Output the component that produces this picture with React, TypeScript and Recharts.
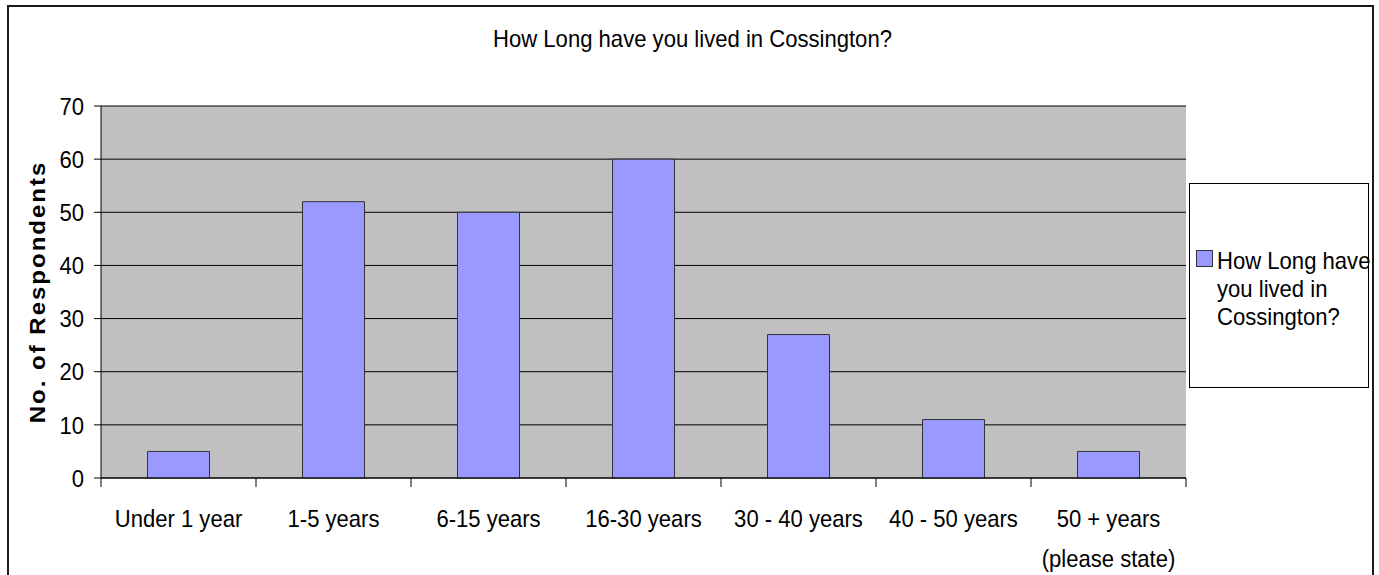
import React from 'react';
import { BarChart, Bar, XAxis, YAxis, CartesianGrid, Legend } from 'recharts';

// ---- data ----
const categories = [
  'Under 1 year',
  '1-5 years',
  '6-15 years',
  '16-30 years',
  '30 - 40 years',
  '40 - 50 years',
  '50 + years\n(please state)',
];
const respondents = [5, 52, 50, 60, 27, 11, 5];
const yTicks = [0, 10, 20, 30, 40, 50, 60, 70];
const seriesName = 'How Long have you lived in Cossington?';
const chartTitle = 'How Long have you lived in Cossington?';
const yAxisTitle = 'No. of Respondents';

const data = categories.map((c, i) => ({ category: c, value: respondents[i] }));

// ---- layout ----
const W = 1379;
const H = 575;
const PLOT_L = 101;
const PLOT_R = 1186;
const PLOT_T = 106;
const PLOT_B = 478;
const X_AXIS_H = 60;
const BAND = (PLOT_R - PLOT_L) / categories.length;
const FONT = '"Liberation Sans", Arial, Helvetica, sans-serif';
const SX = 0.92;

const XTick = (props: any) => {
  const { x, payload, index } = props;
  const lines = String(payload.value).split('\n');
  const last = index === categories.length - 1 || payload.value === categories[categories.length - 1];
  return (
    <g>
      <line x1={x - BAND / 2} x2={x - BAND / 2} y1={PLOT_B} y2={PLOT_B + 9} stroke="#000" strokeWidth={1} />
      {last && <line x1={x + BAND / 2} x2={x + BAND / 2} y1={PLOT_B} y2={PLOT_B + 9} stroke="#000" strokeWidth={1} />}
      <g transform={`translate(${x},${PLOT_B + 49}) scale(${SX},1)`}>
        <text textAnchor="middle" fontFamily={FONT} fontSize={24} fill="#000">
          {lines.map((l, i) => (
            <tspan key={i} x={0} y={i * 40}>
              {l}
            </tspan>
          ))}
        </text>
      </g>
    </g>
  );
};

const YTick = (props: any) => {
  const { x, y, payload } = props;
  return (
    <g transform={`translate(${x},${y}) scale(${SX},1)`}>
      <text textAnchor="end" dy="0.36em" fontFamily={FONT} fontSize={24} fill="#000">
        {payload.value}
      </text>
    </g>
  );
};

const YLabel = (props: any) => {
  const vb = props.viewBox || {};
  const cy = vb.height ? vb.y + vb.height / 2 : (PLOT_T + PLOT_B) / 2;
  return (
    <g transform={`translate(45,${cy}) rotate(-90) scale(1,${SX})`}>
      <text textAnchor="middle" fontFamily={FONT} fontSize={24} fontWeight="bold" letterSpacing={2} fill="#000">
        {yAxisTitle}
      </text>
    </g>
  );
};

const renderLegend = (props: any) => {
  const item = (props.payload && props.payload[0]) || { color: '#9999FF', value: seriesName };
  return (
    <div
      style={{
        position: 'relative',
        width: 180,
        height: 205,
        boxSizing: 'border-box',
        border: '1px solid #000',
        background: '#fff',
      }}
    >
      <div
        style={{
          position: 'absolute',
          left: 6,
          top: 66,
          width: 17,
          height: 17,
          boxSizing: 'border-box',
          background: item.color,
          border: '1px solid #333',
        }}
      />
      <div
        style={{
          position: 'absolute',
          left: 27,
          top: 63,
          width: 175,
          fontFamily: FONT,
          fontSize: 24,
          lineHeight: '28px',
          color: '#000',
          textAlign: 'left',
          transform: `scaleX(${SX})`,
          transformOrigin: 'left top',
        }}
      >
        {item.value}
      </div>
    </div>
  );
};

export default function App() {
  return (
    <div style={{ position: 'absolute', left: 0, top: 0, width: W, height: H, background: '#fff', overflow: 'hidden' }}>
      <BarChart
        width={W}
        height={H}
        data={data}
        margin={{ top: PLOT_T, right: W - PLOT_R, left: 0, bottom: H - PLOT_B - X_AXIS_H }}
        barCategoryGap="30%"
      >
        <CartesianGrid vertical={false} stroke="#000" fill="#C0C0C0" fillOpacity={1} />
        <XAxis
          dataKey="category"
          height={X_AXIS_H}
          interval={0}
          tickLine={false}
          axisLine={{ stroke: '#000' }}
          tick={(p: any) => <XTick {...p} />}
        />
        <XAxis
          xAxisId="top"
          orientation="top"
          dataKey="category"
          height={0}
          tick={false}
          tickLine={false}
          axisLine={{ stroke: '#808080' }}
        />
        <YAxis
          width={PLOT_L}
          domain={[0, 70]}
          ticks={yTicks}
          interval={0}
          tickSize={7}
          tickMargin={10}
          tickLine={{ stroke: '#000' }}
          axisLine={{ stroke: '#000' }}
          tick={(p: any) => <YTick {...p} />}
          label={<YLabel />}
        />
        <YAxis
          yAxisId="right"
          orientation="right"
          width={0}
          domain={[0, 70]}
          tick={false}
          tickLine={false}
          axisLine={{ stroke: '#808080' }}
        />
        <Legend
          layout="horizontal"
          align="center"
          verticalAlign="middle"
          content={renderLegend}
          wrapperStyle={{ position: 'absolute', left: 1189, top: 183, width: 180, height: 205, margin: 0 }}
        />
        <Bar dataKey="value" name={seriesName} fill="#9999FF" stroke="#333" strokeWidth={1} isAnimationActive={false} />
      </BarChart>
      <div
        style={{
          position: 'absolute',
          left: 3,
          top: 25,
          width: W,
          textAlign: 'center',
          fontFamily: FONT,
          fontSize: 24,
          lineHeight: '28px',
          color: '#000',
          transform: `scaleX(${SX})`,
          transformOrigin: 'center top',
        }}
      >
        {chartTitle}
      </div>
      <div
        style={{
          position: 'absolute',
          left: 7,
          top: 5,
          width: 1367,
          height: 620,
          boxSizing: 'border-box',
          border: '2px solid #1a1a1a',
          pointerEvents: 'none',
        }}
      />
    </div>
  );
}
